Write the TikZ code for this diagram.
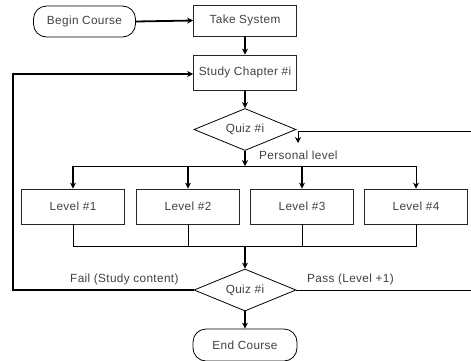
\documentclass[tikz,border=0pt]{standalone}
\usepackage{fontspec}
\setmainfont[LetterSpace=3]{Liberation Sans}
\usetikzlibrary{shapes.geometric,arrows.meta}
\begin{document}
\begin{tikzpicture}[x=1pt,y=-1pt,
  every node/.style={font=\fontsize{11.8}{13}\selectfont, text=black!75},
  boxnode/.style={draw=black!85, line width=0.8pt, minimum width=103pt, minimum height=35pt, inner sep=0pt},
  termnode/.style={draw=black, line width=0.8pt, rounded corners=13pt, minimum width=102pt, minimum height=31pt, inner sep=0pt},
  decnode/.style={draw=black, line width=0.8pt, diamond, aspect=2.43, minimum width=102pt, minimum height=42pt, inner sep=0pt},
  thin line/.style={line width=0.8pt},
  thick line/.style={line width=1.8pt},
  arr/.style={-{Stealth[length=6pt,width=6pt]}},
  lbl/.style={anchor=west, inner sep=0pt}
]
\useasboundingbox (0,0) rectangle (471,360);
\node[termnode] (begin) at (84.5,21.5) {Begin Course};
\node[boxnode, minimum height=31pt] (take) at (245,20.5) {Take System};
\node[boxnode] (study) at (245,72.5) {Study Chapter \#i};
\node[decnode] (q1) at (245,129.5) {Quiz \#i};
\node[boxnode] (l1) at (73,206.5) {Level \#1};
\node[boxnode] (l2) at (188,206.5) {Level \#2};
\node[boxnode] (l3) at (302,206.5) {Level \#3};
\node[boxnode] (l4) at (416,206.5) {Level \#4};
\node[decnode] (q2) at (245,290) {Quiz \#i};
\node[termnode, minimum height=32pt, minimum width=104pt] (end) at (245,345) {End Course};

\coordinate (br) at (245,166);
\coordinate (jn) at (245,246.5);
\coordinate (leftc) at (13,74);
\coordinate (rtop) at (471,131);
\coordinate (rbot) at (471,290);
\coordinate (turn) at (298,131);
\coordinate (turnend) at (298,143);

\draw[thick line, arr] (begin.east) -- (take.west);
\draw[thick line, arr] (take.south) -- (study.north);
\draw[thick line, arr] (study.south) -- (q1.north);
\draw[thick line, arr] (q1.south) -- (br);
\draw[thin line] (br -| l1.north) -- (br -| l4.north);
\draw[thick line, arr] (br -| l1.north) -- (l1.north);
\draw[thick line, arr] (br -| l2.north) -- (l2.north);
\draw[thick line, arr] (br -| l3.north) -- (l3.north);
\draw[thin line, arr] (br -| l4.north) -- (l4.north);
\draw[thin line] (l1.south) -- (jn -| l1.south) -- (jn -| l4.south) -- (l4.south);
\draw[thin line] (l2.south) -- (jn -| l2.south);
\draw[thin line] (l3.south) -- (jn -| l3.south);
\draw[thick line, arr] (jn) -- (q2.north);
\draw[thick line, arr] (q2.south) -- (end.north);
\draw[thick line, arr] (q2.west) -- (q2.west -| leftc) -- (leftc) -- (study.west |- leftc);
\draw[thin line] (q2.east) -- (rbot);
\draw[thin line] (rtop) -- (turn);
\draw[thin line, arr] (turn) -- (turnend);

\node[lbl] (pl) at (259,155) {Personal level};
\node[lbl] (fl) at (70,279) {Fail (Study content)};
\node[lbl] (pa) at (307,279) {Pass (Level +1)};
\end{tikzpicture}
\end{document}
